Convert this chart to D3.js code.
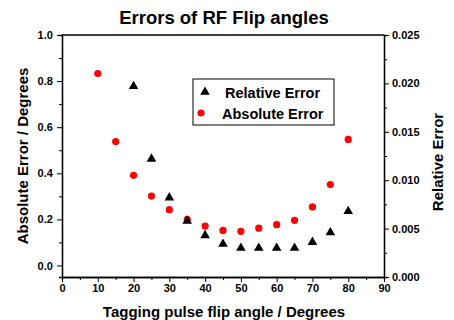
<!DOCTYPE html>
<html>
<head>
<meta charset="utf-8">
<script src="https://cdn.jsdelivr.net/npm/d3@7"></script>
<style>
  body { margin: 0; background: #fff; }
  svg text { font-family: "Liberation Sans", Arial, sans-serif; font-weight: bold; }
</style>
</head>
<body>
<div id="chart"></div>
<script>
const angles = [10, 15, 20, 25, 30, 35, 40, 45, 50, 55, 60, 65, 70, 75, 80];
const absoluteError = [0.833, 0.538, 0.391, 0.301, 0.242, 0.2, 0.171, 0.152, 0.148, 0.162, 0.177, 0.196, 0.254, 0.351, 0.547];
const relAngles = [20, 25, 30, 35, 40, 45, 50, 55, 60, 65, 70, 75, 80];
const relativeError = [0.0197, 0.0122, 0.0082, 0.0058, 0.0043, 0.0034, 0.0030, 0.0030, 0.0030, 0.0030, 0.0036, 0.0046, 0.0068];
const xTicks = [0, 10, 20, 30, 40, 50, 60, 70, 80, 90];
const leftTicks = [0.0, 0.2, 0.4, 0.6, 0.8, 1.0];
const rightTicks = [0, 0.005, 0.01, 0.015, 0.02, 0.025];

const W = 454, H = 320;
const margin = { top: 35, right: 70, bottom: 43, left: 62 };
const width = W - margin.left - margin.right,
  height = H - margin.top - margin.bottom;

const svg = d3.select("#chart").append("svg")
  .attr("width", W)
  .attr("height", H);

const g = svg.append("g")
  .attr("transform", `translate(${margin.left},${margin.top})`);

const x = d3.scaleLinear().domain([0, 90]).range([0, width]);
const yL = d3.scaleLinear().domain([-0.05, 1.0]).range([height, 0]);
const yR = d3.scaleLinear().domain([0, 0.025]).range([height, 0]);

// minor ticks first
g.append("g")
  .attr("transform", `translate(0,${height})`)
  .call(d3.axisBottom(x).tickValues(d3.range(5, 90, 10)).tickSize(3).tickFormat(""));
g.append("g")
  .call(d3.axisLeft(yL).tickValues([0.1, 0.3, 0.5, 0.7, 0.9]).tickSize(3).tickFormat(""));
g.append("g")
  .attr("transform", `translate(${width},0)`)
  .call(d3.axisRight(yR).tickValues([0.0025, 0.0075, 0.0125, 0.0175, 0.0225]).tickSize(3).tickFormat(""));

const xAxis = g.append("g")
  .attr("transform", `translate(0,${height})`)
  .call(d3.axisBottom(x).tickValues(xTicks).tickSize(5).tickSizeOuter(0).tickFormat(d3.format("d")));
const lAxis = g.append("g")
  .call(d3.axisLeft(yL).tickValues(leftTicks).tickSize(5).tickSizeOuter(0).tickFormat(d3.format(".1f")));
const rAxis = g.append("g")
  .attr("transform", `translate(${width},0)`)
  .call(d3.axisRight(yR).tickValues(rightTicks).tickSize(5).tickSizeOuter(0).tickFormat(d3.format(".3f")));

g.selectAll(".domain").attr("stroke", "#000").attr("stroke-width", 1.3);
g.selectAll(".tick line").attr("stroke", "#000").attr("stroke-width", 1);
g.selectAll(".tick text").attr("fill", "#000").style("font-size", "11px");
xAxis.selectAll(".tick text").attr("dy", "0.6em");
lAxis.selectAll(".tick text").attr("dx", "-0.1em");

// top border
g.append("line")
  .attr("x1", 0).attr("x2", width)
  .attr("y1", 0).attr("y2", 0)
  .attr("stroke", "#000").attr("stroke-width", 1.3);

// absolute error circles
g.selectAll(".abs")
  .data(angles.map((a, i) => ({ a, v: absoluteError[i] })))
  .enter().append("circle")
  .attr("class", "abs")
  .attr("cx", d => x(d.a))
  .attr("cy", d => yL(d.v))
  .attr("r", 3.6)
  .attr("fill", "#ff0000");

// relative error triangles
const tri = d3.symbol().type(d3.symbolTriangle).size(40);
g.selectAll(".rel")
  .data(relAngles.map((a, i) => ({ a, v: relativeError[i] })))
  .enter().append("path")
  .attr("class", "rel")
  .attr("transform", d => `translate(${x(d.a)},${yR(d.v)})`)
  .attr("d", tri)
  .attr("fill", "#000");

// title
svg.append("text")
  .attr("x", 224).attr("y", 24)
  .attr("text-anchor", "middle")
  .style("font-size", "18.5px")
  .text("Errors of RF Flip angles");

// axis titles
svg.append("text")
  .attr("x", 224).attr("y", 317)
  .attr("text-anchor", "middle")
  .style("font-size", "15px")
  .text("Tagging pulse flip angle / Degrees");

svg.append("text")
  .attr("transform", "translate(28,156) rotate(-90)")
  .attr("text-anchor", "middle")
  .style("font-size", "15px")
  .text("Absolute Error / Degrees");

svg.append("text")
  .attr("transform", "translate(443,162) rotate(-90)")
  .attr("text-anchor", "middle")
  .style("font-size", "15px")
  .text("Relative Error");

// legend
const legend = svg.append("g").attr("transform", "translate(193,79)");
legend.append("rect")
  .attr("width", 141).attr("height", 46)
  .attr("fill", "#fff").attr("stroke", "#000").attr("stroke-width", 1);
legend.append("path")
  .attr("transform", "translate(12,13)")
  .attr("d", tri).attr("fill", "#000");
legend.append("text")
  .attr("x", 32).attr("y", 19)
  .style("font-size", "14.5px")
  .text("Relative Error");
legend.append("circle")
  .attr("cx", 8).attr("cy", 34).attr("r", 3.6)
  .attr("fill", "#ff0000");
legend.append("text")
  .attr("x", 29).attr("y", 40)
  .style("font-size", "14.5px")
  .text("Absolute Error");
</script>
</body>
</html>
